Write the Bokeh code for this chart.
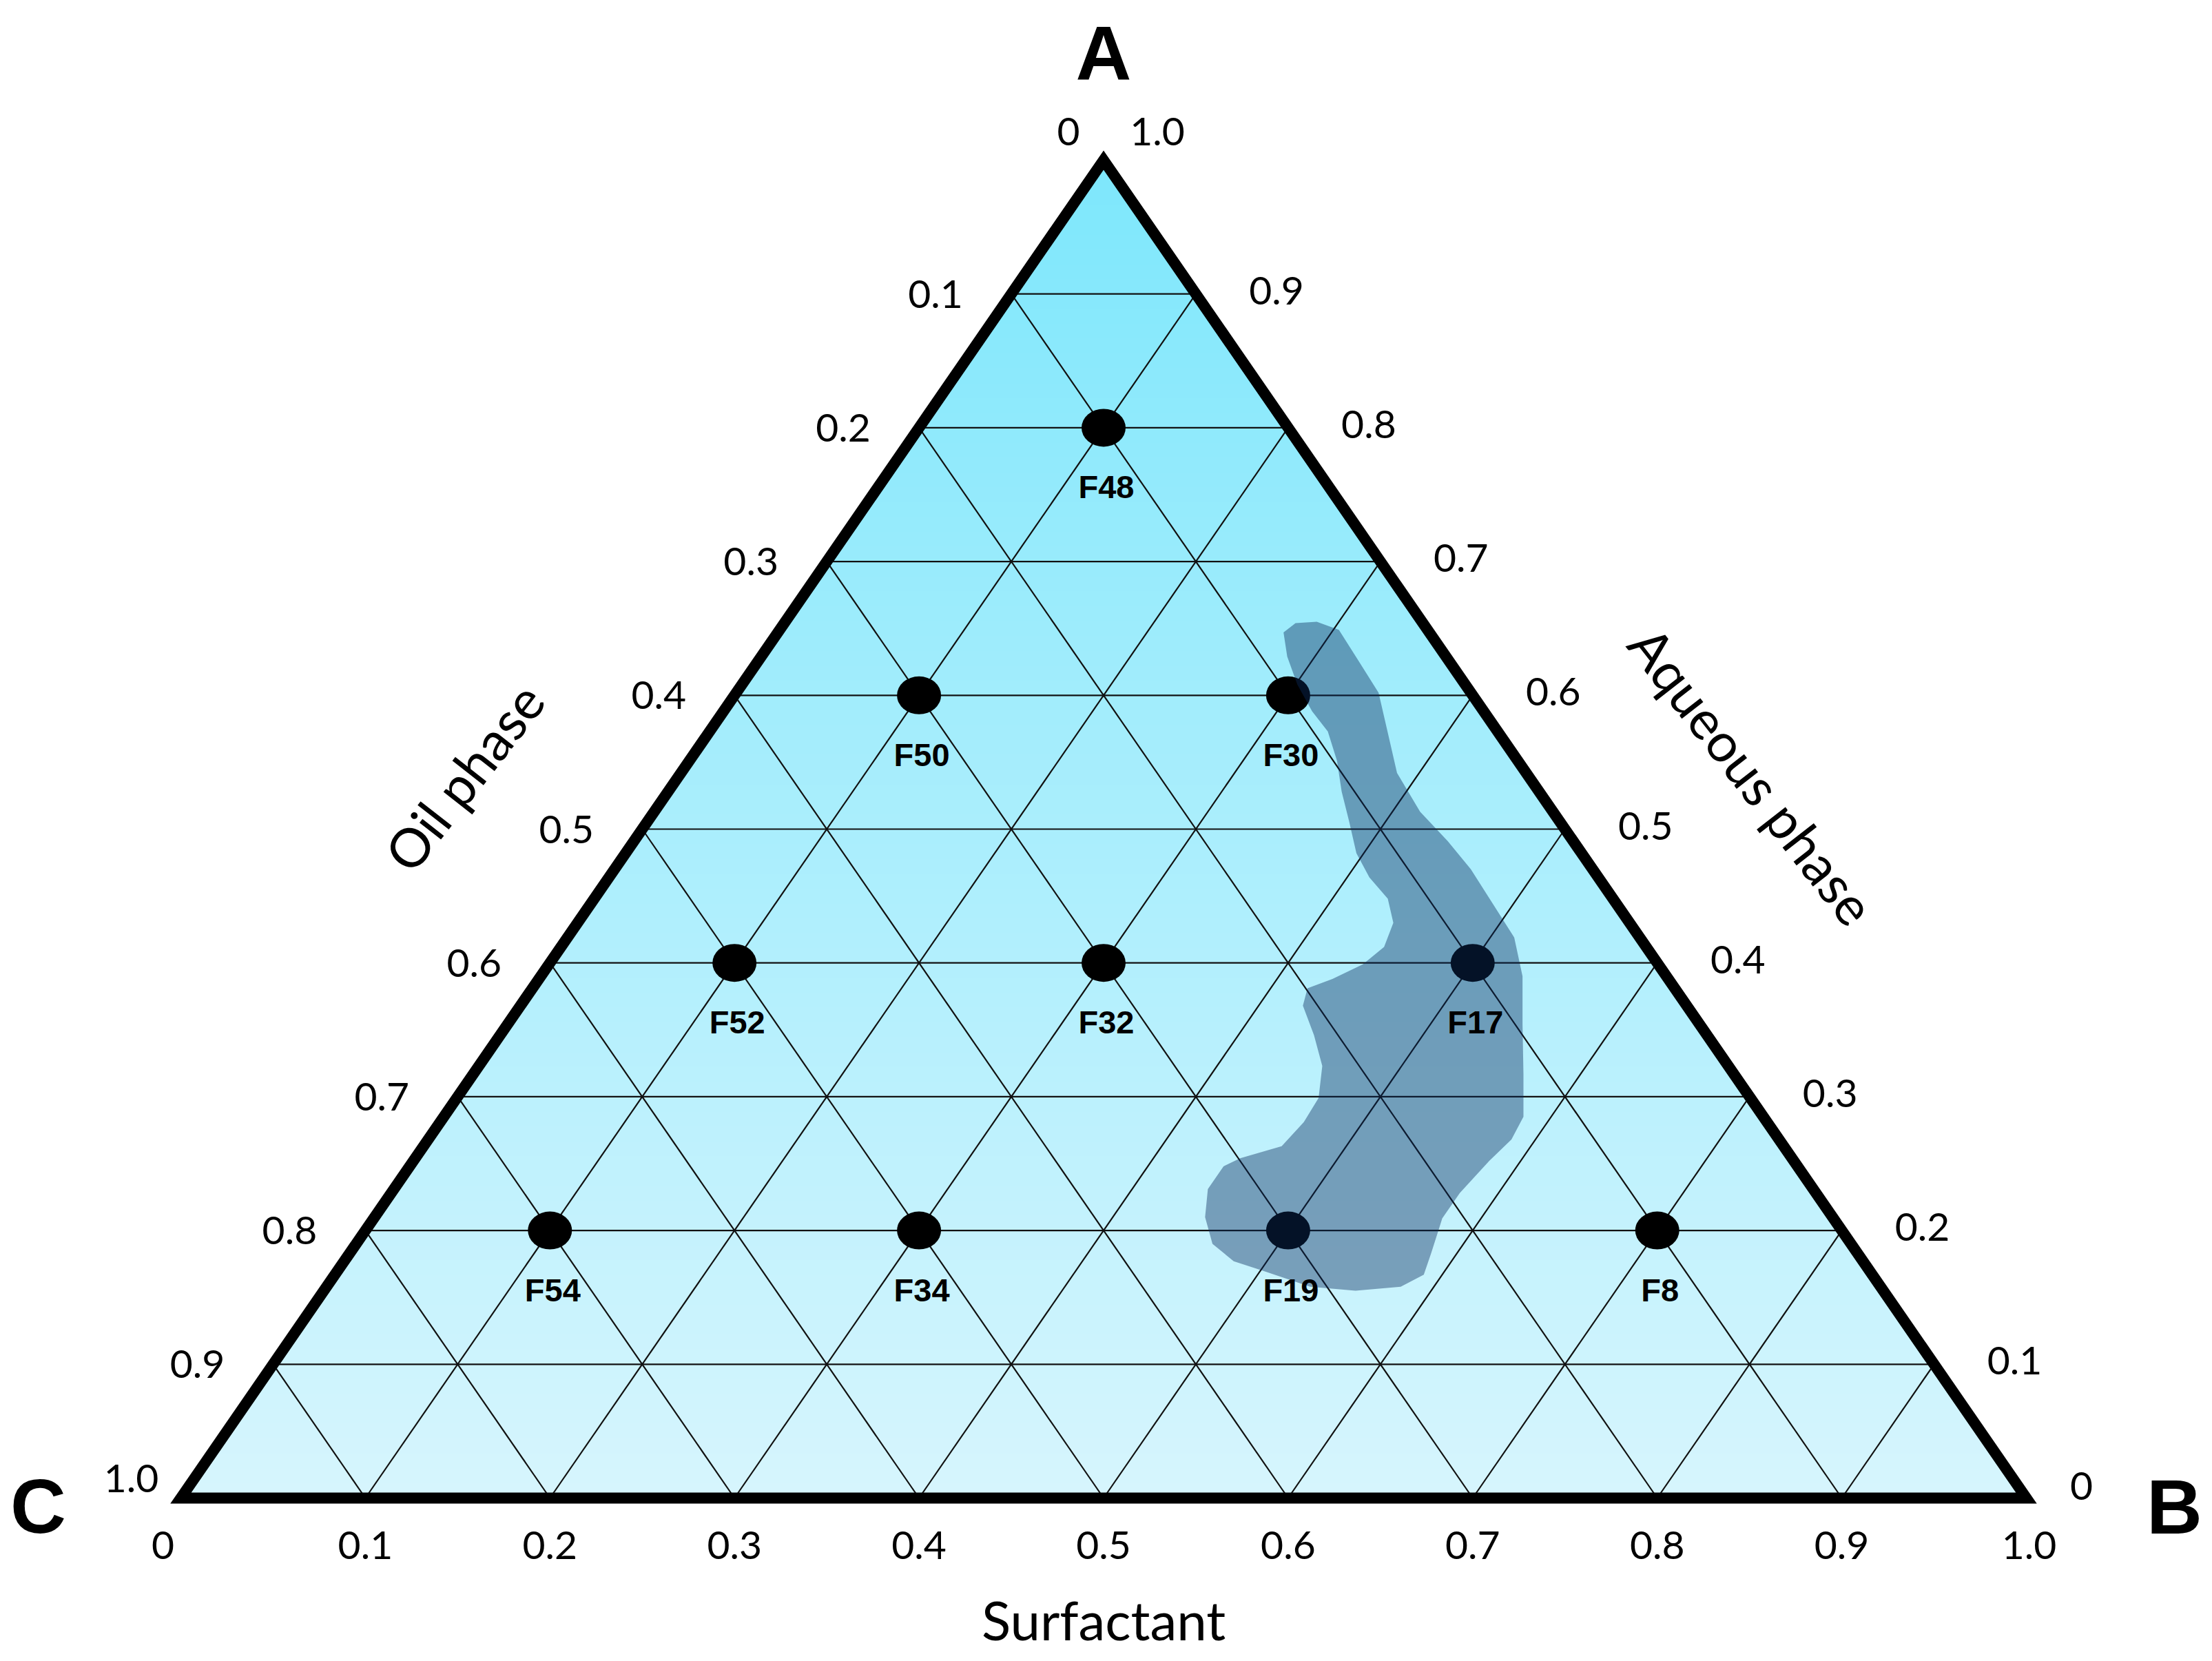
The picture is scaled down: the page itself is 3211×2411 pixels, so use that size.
import numpy as np
from bokeh.plotting import figure
from bokeh.models import Range1d
from bokeh.core.properties import value
from bokeh.embed import file_html
from bokeh.resources import INLINE

# ---------------- data ----------------
formulations = ["F48", "F50", "F30", "F52", "F32", "F17", "F54", "F34", "F19", "F8"]
aqueous_frac = [0.8, 0.6, 0.6, 0.4, 0.4, 0.4, 0.2, 0.2, 0.2, 0.2]
surfactant_frac = [0.1, 0.1, 0.3, 0.1, 0.3, 0.5, 0.1, 0.3, 0.5, 0.7]

tick_values = [0.0, 0.1, 0.2, 0.3, 0.4, 0.5, 0.6, 0.7, 0.8, 0.9, 1.0]
tick_labels = ["0", "0.1", "0.2", "0.3", "0.4", "0.5", "0.6", "0.7", "0.8", "0.9", "1.0"]

vertex_names = ["A", "B", "C"]
axis_titles = {"bottom": "Surfactant", "left": "Oil phase", "right": "Aqueous phase"}

# shaded (nanoemulsion) region outline, as ternary compositions
region_aqueous = [0.647, 0.654, 0.655, 0.649, 0.625, 0.602, 0.575, 0.542, 0.513, 0.491,
                  0.470, 0.444, 0.419, 0.390, 0.354, 0.317, 0.285, 0.268, 0.252, 0.228,
                  0.209, 0.183, 0.167, 0.158, 0.155, 0.158, 0.170, 0.177, 0.190, 0.210,
                  0.231, 0.248, 0.254, 0.263, 0.281, 0.299, 0.323, 0.346, 0.368, 0.381,
                  0.388, 0.399, 0.412, 0.430, 0.448, 0.464, 0.482, 0.506, 0.528, 0.551,
                  0.573, 0.588, 0.608, 0.629]
region_surfactant = [0.274, 0.277, 0.288, 0.303, 0.326, 0.348, 0.366, 0.388, 0.415, 0.441,
                     0.464, 0.489, 0.513, 0.532, 0.550, 0.569, 0.585, 0.587, 0.583, 0.579,
                     0.579, 0.586, 0.590, 0.582, 0.559, 0.533, 0.501, 0.482, 0.464, 0.450,
                     0.441, 0.441, 0.447, 0.465, 0.468, 0.467, 0.457, 0.441, 0.424, 0.420,
                     0.430, 0.441, 0.446, 0.442, 0.430, 0.412, 0.396, 0.380, 0.365, 0.351,
                     0.335, 0.319, 0.301, 0.285]

# ---------------- geometry ----------------
W_PX, H_PX = 3211, 2411
PAGE_H = 2411
X_C, X_B = 262.0, 2941.0          # base corners (reference pixel x)
Y_BASE_REF, Y_APEX_REF = 2174.0, 232.0
SIDE = X_B - X_C
HEIGHT = Y_BASE_REF - Y_APEX_REF


def tern(a, b):
    """a = aqueous (A, top), b = surfactant (B, right); returns plot coords."""
    a = np.asarray(a, dtype=float)
    b = np.asarray(b, dtype=float)
    x = X_C + SIDE * (b + a / 2.0)
    y_ref = Y_BASE_REF - HEIGHT * a
    return x, PAGE_H - y_ref


p = figure(width=W_PX, height=H_PX, output_backend="svg", toolbar_location=None,
           x_range=Range1d(0, W_PX), y_range=Range1d(PAGE_H - H_PX, PAGE_H),
           min_border=0, outline_line_color=None,
           x_axis_location=None, y_axis_location=None,
           background_fill_color="white", border_fill_color="white")
p.grid.visible = False

# ---------------- gradient fill (nested triangles) ----------------
top_col = np.array([126, 231, 252])
bot_col = np.array([214, 245, 253])
N = 90
xs, ys, cols = [], [], []
for i in range(N):
    a0 = i / N
    tx, ty = tern([a0, a0, 1.0], [0.0, 1.0 - a0, 0.0])
    xs.append(list(tx)); ys.append(list(ty))
    t = (a0 + 0.5 / N)
    c = bot_col + (top_col - bot_col) * t
    cols.append("#%02x%02x%02x" % tuple(int(round(v)) for v in c))
p.patches(xs, ys, fill_color=cols, line_color=None)

# ---------------- grid lines ----------------
gx, gy = [], []
for k in range(1, 10):
    v = k / 10
    x, y = tern([v, v], [0.0, 1 - v]); gx.append(list(x)); gy.append(list(y))
    x, y = tern([0.0, 1 - v], [v, v]); gx.append(list(x)); gy.append(list(y))
    x, y = tern([0.0, 1 - v], [1 - v, 0.0]); gx.append(list(x)); gy.append(list(y))
p.multi_line(gx, gy, line_color="#111111", line_width=2.2)

# ---------------- formulation points ----------------
px, py = tern(aqueous_frac, surfactant_frac)
p.ellipse(px, py, width=64, height=55, fill_color="black", line_color=None)

# ---------------- shaded region ----------------
rx, ry = tern(region_aqueous, region_surfactant)
p.patch(list(rx), list(ry), fill_color="#0a2a5e", fill_alpha=0.42, line_color=None)

# ---------------- border ----------------
bx, by = tern([0.0, 0.0, 1.0], [0.0, 1.0, 0.0])
p.patch(list(bx), list(by), fill_color=None, line_color="black", line_width=16,
        line_join="miter")

# ---------------- formulation labels ----------------
p.text(px + 4, py - 86, text=formulations, text_font=value("Liberation Sans"),
       text_font_style="bold", text_font_size="47px", text_align="center",
       text_baseline="middle", text_color="black")

# ---------------- tick labels ----------------
TICK_FONT = value("Lato")
TICK_SIZE = "57px"
lx, ly, rxl, ryl, bxl, byl = [], [], [], [], [], []
for v in tick_values:
    x, y = tern(1 - v, 0.0)
    if v == 0.0:
        dx, dy = -51, 42
    elif v == 1.0:
        dx, dy = -72, 29
    else:
        dx, dy = -110, 0
    lx.append(float(x) + dx); ly.append(float(y) + dy)
    x, y = tern(v, 1 - v)
    if v == 1.0:
        dx, dy = 78, 42
    elif v == 0.0:
        dx, dy = 80, 18
    else:
        dx, dy = 117, 5
    rxl.append(float(x) + dx); ryl.append(float(y) + dy)
    x, y = tern(0.0, v)
    if v == 0.0:
        dx = -26
    elif v == 1.0:
        dx = 4
    else:
        dx = 0
    bxl.append(float(x) + dx); byl.append(float(y) - 68)

for X, Y in ((lx, ly), (rxl, ryl), (bxl, byl)):
    p.text(X, Y, text=tick_labels, text_font=TICK_FONT, text_font_size=TICK_SIZE,
           text_align="center", text_baseline="middle", text_color="black")

# ---------------- axis titles ----------------
TITLE_FONT = value("Lato")
mx, my = tern(0.0, 0.5)
p.text([float(mx)], [float(my) - 176], text=[axis_titles["bottom"]], text_font=TITLE_FONT,
       text_font_size="78px", text_align="center", text_baseline="middle")
lmx, lmy = tern(0.5, 0.0)
p.text([float(lmx) - 259], [float(lmy) + 76], text=[axis_titles["left"]], text_font=TITLE_FONT,
       text_font_size="78px", text_align="center", text_baseline="middle",
       angle=np.deg2rad(52))
rmx, rmy = tern(0.5, 0.5)
p.text([float(rmx) + 272], [float(rmy) + 78], text=[axis_titles["right"]], text_font=TITLE_FONT,
       text_font_size="78px", text_align="center", text_baseline="middle",
       angle=-np.deg2rad(52))

# ---------------- vertex letters ----------------
ax_, ay_ = tern(1.0, 0.0)
bx_, by_ = tern(0.0, 1.0)
cx_, cy_ = tern(0.0, 0.0)
p.text([float(ax_), float(bx_) + 215, float(cx_) - 207],
       [float(ay_) + 155, float(by_) - 13, float(cy_) - 12],
       text=vertex_names, text_font=value("Liberation Sans"), text_font_style="bold",
       text_font_size="112px", text_align="center", text_baseline="middle",
       text_color="black")

open("out.html", "w").write(file_html(p, INLINE))
